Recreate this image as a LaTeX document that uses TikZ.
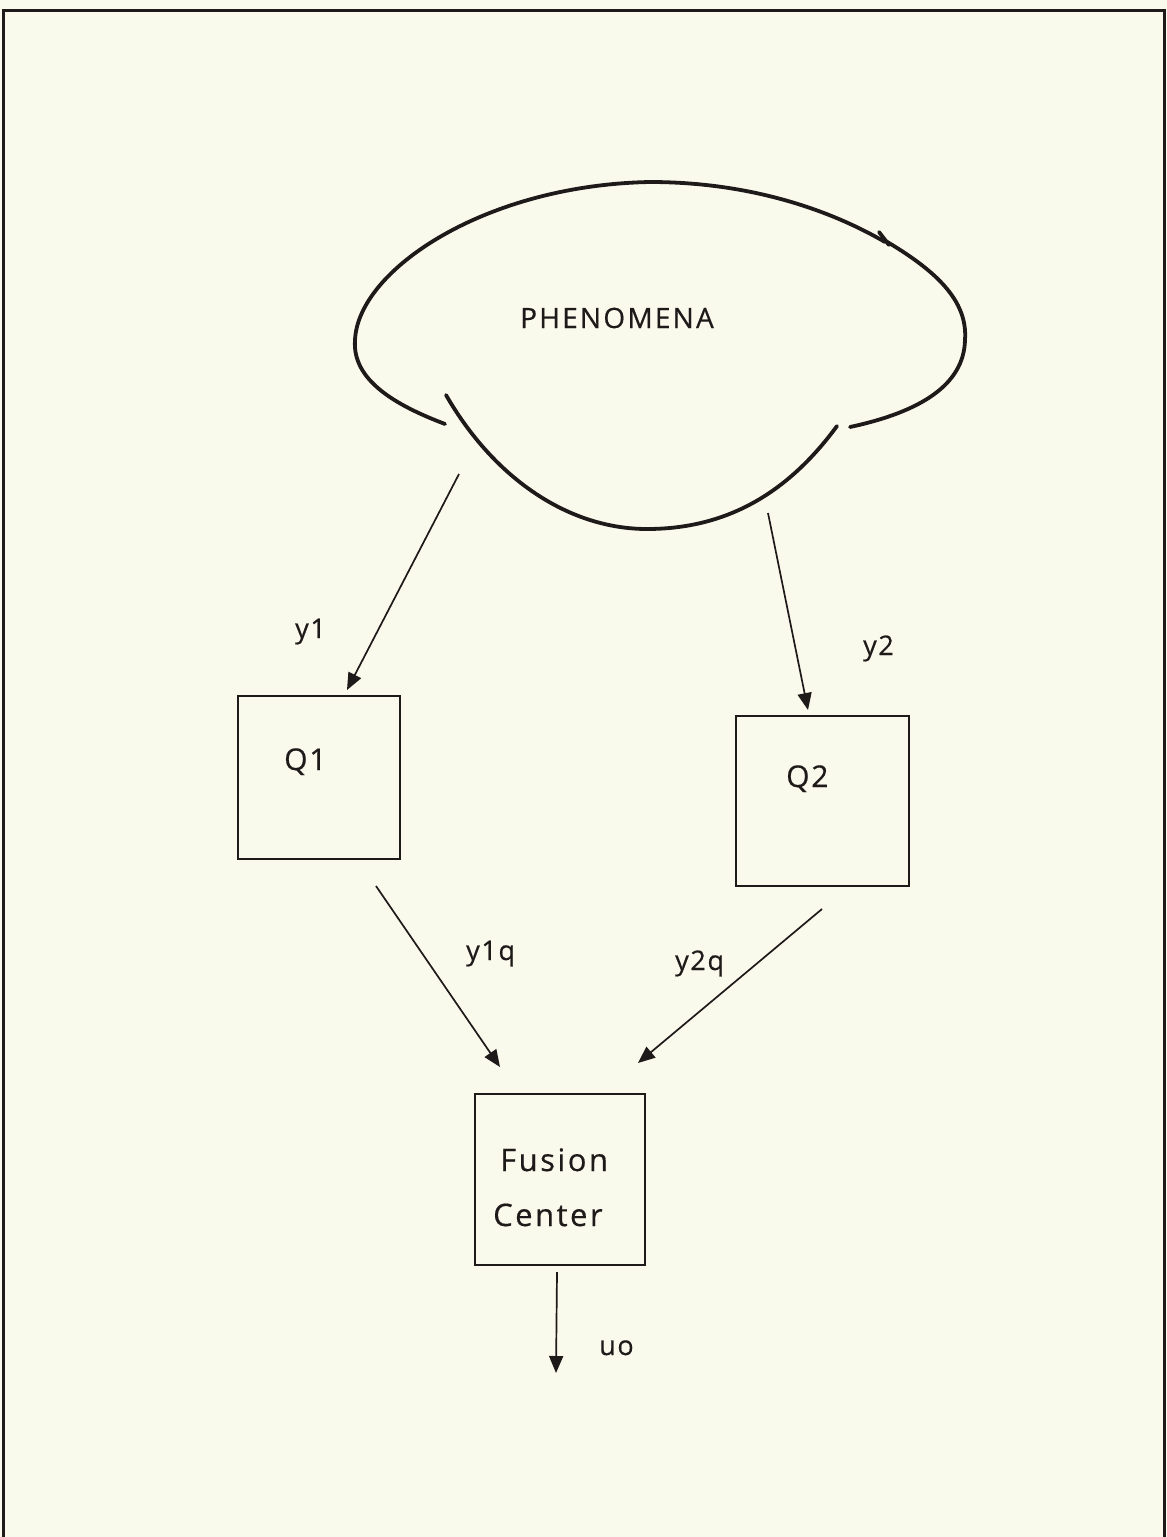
\documentclass[tikz,border=0pt]{standalone}
\usepackage{fontspec}
\setmainfont{Open Sans}
\usetikzlibrary{arrows.meta}
\definecolor{paper}{RGB}{249,249,236}
\definecolor{ink}{RGB}{30,26,26}
\tikzset{
  blob/.style={draw=ink, line width=3.8pt, line cap=round},
  box/.style={draw=ink, line width=2.6pt, fill=none, inner sep=0pt},
  arr/.style={draw=ink, line width=1.7pt, -{Triangle[length=17pt,width=14pt]}},
  txt/.style={inner sep=0pt, anchor=base west, text=ink},
  lab/.style={txt, font=\fontsize{27}{30}\selectfont\addfontfeature{FakeBold=0.5,LetterSpace=6}},
  big/.style={txt, font=\fontsize{30}{34}\selectfont\addfontfeature{FakeBold=0.5,LetterSpace=6}},
}
\begin{document}
\begin{tikzpicture}[x=1pt,y=-1pt]
\useasboundingbox (0,0) rectangle (1167,1537);
\fill[paper] (0,0) rectangle (1167,1537);
% frame
\draw[ink, line width=3pt] (3,1537) -- (3,10) -- (1164,10) -- (1164,1537);
% phenomena blob
\draw[blob] (445,424) .. controls (395,405) and (352,380) .. (355,340)
            .. controls (358,270) and (485,185) .. (650,182)
            .. controls (750,182) and (830,210) .. (885,242);
\draw[blob] (879,232) -- (889,245);
\draw[blob] (884,240) .. controls (935,270) and (968,300) .. (965,340)
            .. controls (964,385) and (920,412) .. (850,427);
\draw[blob] (446,395) .. controls (495,480) and (570,529) .. (647,529)
            .. controls (730,529) and (790,490) .. (837,426);
\node[txt, font=\fontsize{28}{32}\selectfont\addfontfeature{FakeBold=0.5,LetterSpace=8}] (phen) at (520,328) {PHENOMENA};
% boxes
\node[box, minimum width=162pt, minimum height=163pt] (q1) at (319,777.5) {};
\node[box, minimum width=173pt, minimum height=170pt] (q2) at (822.5,801) {};
\node[box, minimum width=170pt, minimum height=171pt] (fc) at (560,1179.5) {};
\node[big] (q1t) at (284,770) {Q1};
\node[big] (q2t) at (786,787) {Q2};
\node[big, font=\fontsize{31}{34}\selectfont\addfontfeature{FakeBold=0.5,LetterSpace=8}] (fct1) at (500,1171) {Fusion};
\node[big, font=\fontsize{31}{34}\selectfont\addfontfeature{FakeBold=0.5,LetterSpace=8}] (fct2) at (493,1226) {Center};
% arrow coordinates
\coordinate (y1s) at (459,474);
\coordinate (y1e) at (347,690);
\coordinate (y2s) at (768,513);
\coordinate (y2e) at (808,710);
\coordinate (y1qs) at (376,886);
\coordinate (y1qe) at (500,1067);
\coordinate (y2qs) at (822,909);
\coordinate (y2qe) at (638,1063);
\coordinate (uos) at (557,1272);
\coordinate (uoe) at (556,1373);
\draw[arr] (y1s) -- (y1e);
\draw[arr] (y2s) -- (y2e);
\draw[arr] (y1qs) -- (y1qe);
\draw[arr] (y2qs) -- (y2qe);
\draw[arr] (uos) -- (uoe);
% labels
\node[lab] (ly1) at (295,638) {y1};
\node[lab] (ly2) at (863,655) {y2};
\node[lab] (ly1q) at (466,960) {y1q};
\node[lab] (ly2q) at (675,970) {y2q};
\node[lab] (luo) at (599,1355) {uo};
\end{tikzpicture}
\end{document}
